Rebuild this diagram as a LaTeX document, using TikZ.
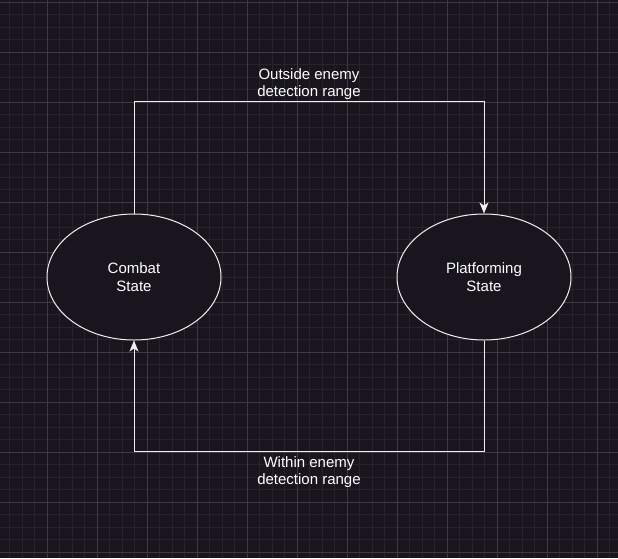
\documentclass[tikz,border=0pt]{standalone}
\usepackage{fontspec}
\setmainfont{Liberation Sans}
\usetikzlibrary{arrows.meta,positioning,shapes.geometric}

\definecolor{canvas}{HTML}{18151E}
\definecolor{minorgrid}{HTML}{26232C}
\definecolor{majorgrid}{HTML}{3D3A44}
\definecolor{edgewhite}{HTML}{F0F0F0}

\begin{document}
\begin{tikzpicture}[
  x=1pt, y=1pt,
  >={Stealth[length=11pt,width=9pt,inset=3pt]},
  state/.style={ellipse, draw=edgewhite, line width=1pt, fill=canvas,
    minimum width=174pt, minimum height=126pt, inner sep=0pt,
    text=white, align=center, font=\fontsize{15}{18}\selectfont},
  flow/.style={->, draw=edgewhite, line width=1pt},
  label/.style={text=white, align=center, inner sep=2pt,
    font=\fontsize{15}{17}\selectfont},
]
% background and grid
\fill[canvas] (0,0) rectangle (618,-558);
\useasboundingbox (0,0) rectangle (618,-558);
\foreach \k in {0,...,49} {
  \draw[minorgrid, line width=0.6pt] ({-3+12.5*\k},0) -- ({-3+12.5*\k},-558);
  \draw[minorgrid, line width=0.6pt] (0,{-2-12.5*\k}) -- (618,{-2-12.5*\k});
}
\foreach \k in {0,...,12} {
  \draw[majorgrid, line width=0.6pt] ({-3+50*\k},0) -- ({-3+50*\k},-558);
  \draw[majorgrid, line width=0.6pt] (0,{-2-50*\k}) -- (618,{-2-50*\k});
}

% states
\node[state] (combat) at (134,-277) {Combat\\State};
\node[state] (platform) at (484,-277) {Platforming\\State};

% transitions
\draw[flow] (combat.north) -- ++(0,112) -| (platform.north)
  node[pos=0.25, above, label, inner sep=1pt] {Outside enemy\\detection range};
\draw[flow] (platform.south) -- ++(0,-111) -| (combat.south)
  node[pos=0.25, below, label, inner sep=5pt] {Within enemy\\detection range};
\end{tikzpicture}
\end{document}
